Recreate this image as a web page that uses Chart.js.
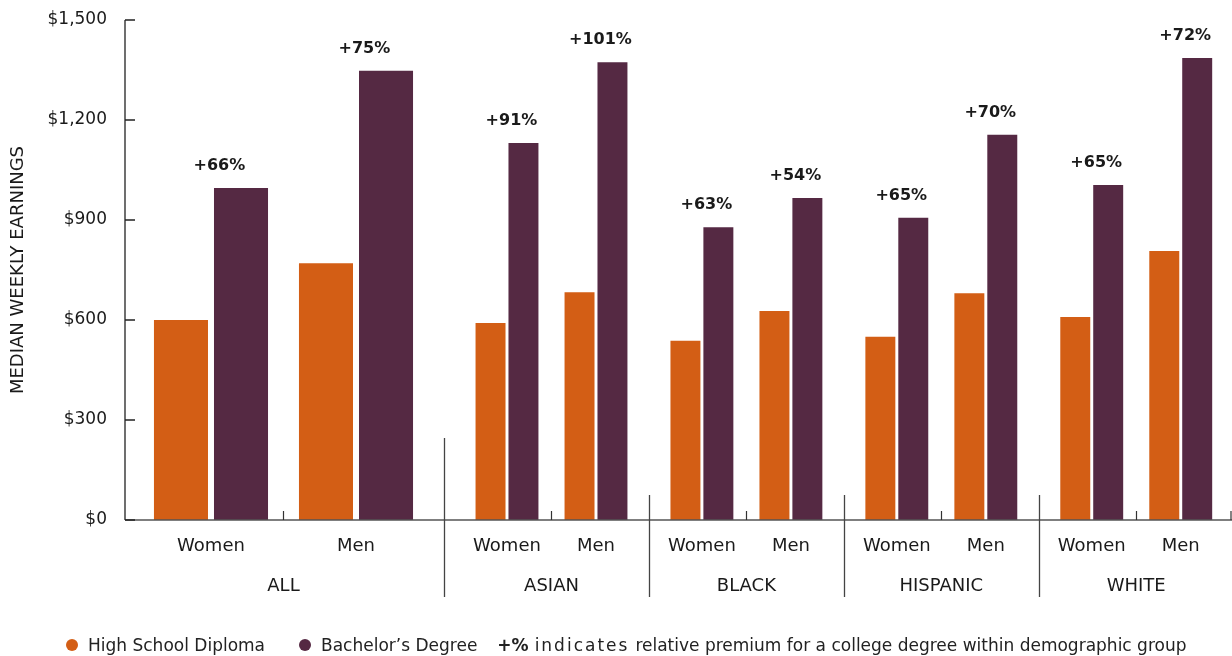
<!DOCTYPE html>
<html>
<head>
<meta charset="utf-8">
<script src="https://cdn.jsdelivr.net/npm/chart.js@4.4.1/dist/chart.umd.min.js"></script>
<style>
  body { margin: 0; background: #fff; }
  #wrap { position: relative; width: 1232px; height: 656px; }
  #legend {
    position: absolute; left: 66px; top: 635px;
    font-family: "DejaVu Sans", sans-serif; font-size: 17px; color: #222;
    display: flex; align-items: center; white-space: nowrap;
  }
  #legend .dot { width: 12px; height: 12px; border-radius: 50%; display: inline-block; margin-right: 10px; }
  #legend .item { display: flex; align-items: center; }
  #legend .note b { margin-right: 6px; }
  #legend .spaced { letter-spacing: 2px; margin-right: 6px; }
</style>
</head>
<body>
<div id="wrap">
  <canvas id="earnings" width="1232" height="656"></canvas>
  <div id="legend">
    <span class="item" style="margin-right:34px"><span class="dot" style="background:#D35E15"></span>High School Diploma</span>
    <span class="item" style="margin-right:20px"><span class="dot" style="background:#552943"></span>Bachelor’s Degree</span>
    <span class="note"><b>+%</b><span class="spaced">indicates</span>relative premium for a college degree within demographic group</span>
  </div>
</div>
<script>
const groups = ["ALL", "ASIAN", "BLACK", "HISPANIC", "WHITE"];
const sexes = ["Women", "Men"];
// median weekly earnings, group by group, women then men
const highSchool = [600, 770, 591, 683, 538, 627, 550, 680, 609, 807];
const bachelors = [996, 1348, 1131, 1373, 878, 966, 907, 1156, 1005, 1386];
const yTicks = [0, 300, 600, 900, 1200, 1500];

const HS_COLOR = "#D35E15";
const BA_COLOR = "#552943";
const FONT = "DejaVu Sans";

// "ALL" gets its own wider x scale, the other groups share a narrower one
const groupStep = 2.19;     // spacing between race groups, in category widths
const halfPairAll = 0.207;  // half the distance between the two bars of a pair
const halfPairRest = 0.185;

function pointsFor(values, first, side) {
  const out = [];
  const half = first ? halfPairAll : halfPairRest;
  values.forEach((v, i) => {
    const g = Math.floor(i / 2), s = i % 2;
    if (first ? g === 0 : g > 0) {
      const base = first ? s : (g - 1) * groupStep + s;
      out.push({ x: base + side * half, y: v });
    }
  });
  return out;
}

const premium = bachelors.map((b, i) => Math.round((b / highSchool[i] - 1) * 100));

const overlay = {
  id: "overlay",
  afterDraw(chart) {
    const ctx = chart.ctx;
    const area = chart.chartArea;
    const yScale = chart.scales.y;
    const bars = (d) => chart.getDatasetMeta(d).data;
    // flatten bars back into the order of the data arrays
    const hsBars = bars(0).concat(bars(2));
    const baBars = bars(1).concat(bars(3));
    const left = (el) => el.x - el.width / 2;
    const right = (el) => el.x + el.width / 2;

    ctx.save();
    // axis lines
    ctx.strokeStyle = "#555";
    ctx.lineWidth = 1.5;
    ctx.beginPath();
    ctx.moveTo(area.left, area.bottom);
    ctx.lineTo(area.right, area.bottom);
    ctx.stroke();

    ctx.strokeStyle = "#222";
    ctx.lineWidth = 1.3;
    ctx.beginPath();
    ctx.moveTo(area.left, area.top);
    ctx.lineTo(area.left, area.bottom);
    yTicks.forEach((t) => {
      const y = yScale.getPixelForValue(t);
      ctx.moveTo(area.left, y);
      ctx.lineTo(area.left + 10, y);
    });
    ctx.stroke();

    // small ticks between women and men, and at the end of the axis
    ctx.strokeStyle = "#333";
    ctx.lineWidth = 1.2;
    ctx.beginPath();
    groups.forEach((g, gi) => {
      const x = Math.round((right(baBars[gi * 2]) + left(hsBars[gi * 2 + 1])) / 2) + 0.5;
      ctx.moveTo(x, area.bottom - 9);
      ctx.lineTo(x, area.bottom);
    });
    ctx.moveTo(area.right - 1, area.bottom - 9);
    ctx.lineTo(area.right - 1, area.bottom);
    ctx.stroke();

    // group separators
    ctx.strokeStyle = "#444";
    ctx.lineWidth = 1.3;
    ctx.beginPath();
    for (let gi = 0; gi < groups.length - 1; gi++) {
      const x = Math.round((right(baBars[gi * 2 + 1]) + left(hsBars[gi * 2 + 2])) / 2) + 0.5;
      ctx.moveTo(x, area.bottom - (gi === 0 ? 82 : 25));
      ctx.lineTo(x, area.bottom + 77);
    }
    ctx.stroke();

    // category and group labels
    ctx.fillStyle = "#1a1a1a";
    ctx.textAlign = "center";
    ctx.textBaseline = "alphabetic";
    ctx.font = "18px '" + FONT + "'";
    hsBars.forEach((el, i) => {
      const cx = (left(el) + right(baBars[i])) / 2;
      ctx.fillText(sexes[i % 2], cx, area.bottom + 31);
    });
    groups.forEach((g, gi) => {
      const a = (left(hsBars[gi * 2]) + right(baBars[gi * 2])) / 2;
      const b = (left(hsBars[gi * 2 + 1]) + right(baBars[gi * 2 + 1])) / 2;
      ctx.fillText(g, (a + b) / 2, area.bottom + 71);
    });

    // premium labels above the bachelor's bars
    ctx.font = "bold 16px '" + FONT + "'";
    baBars.forEach((el, i) => {
      ctx.fillText("+" + premium[i] + "%", el.x - el.width * 0.4, el.y - 18);
    });
    ctx.restore();
  }
};

const barCommon = { borderWidth: 0, grouped: false, categoryPercentage: 1 };

new Chart(document.getElementById("earnings"), {
  type: "bar",
  data: {
    datasets: [
      { ...barCommon, label: "High School Diploma", data: pointsFor(highSchool, true, -1), backgroundColor: HS_COLOR,
        xAxisID: "xAll", barPercentage: 0.9 },
      { ...barCommon, label: "Bachelor's Degree", data: pointsFor(bachelors, true, 1), backgroundColor: BA_COLOR,
        xAxisID: "xAll", barPercentage: 0.9 },
      { ...barCommon, label: "High School Diploma", data: pointsFor(highSchool, false, -1), backgroundColor: HS_COLOR,
        xAxisID: "xRest", barPercentage: 0.91 },
      { ...barCommon, label: "Bachelor's Degree", data: pointsFor(bachelors, false, 1), backgroundColor: BA_COLOR,
        xAxisID: "xRest", barPercentage: 0.91 }
    ]
  },
  options: {
    responsive: false,
    animation: false,
    devicePixelRatio: 1,
    layout: { padding: { top: 20, right: 0, bottom: 136, left: 0 } },
    plugins: { legend: { display: false }, tooltip: { enabled: false } },
    scales: {
      xAll: { type: "linear", display: false, offset: false, min: -0.593, max: 7.041,
        afterBuildTicks: (scale) => { scale.ticks = [{ value: 0 }, { value: 1 }]; } },
      xRest: { type: "linear", display: false, offset: false, min: -4.292, max: 8.146,
        afterBuildTicks: (scale) => { scale.ticks = [{ value: 0 }, { value: 1 }]; } },
      y: {
        position: "left",
        min: 0,
        max: 1500,
        afterBuildTicks: (scale) => { scale.ticks = yTicks.map((v) => ({ value: v })); },
        afterFit: (scale) => {
          scale.width = 125;
          scale.paddingTop = 0;
          scale.paddingBottom = 0;
        },
        ticks: {
          padding: 10,
          color: "#1a1a1a",
          font: { family: FONT, size: 17 },
          callback: (v) => "$" + v.toLocaleString("en-US")
        },
        grid: { display: false },
        border: { display: false },
        title: {
          display: true,
          text: "MEDIAN WEEKLY EARNINGS",
          color: "#1a1a1a",
          font: { family: FONT, size: 18 },
          padding: { top: 8, bottom: 0 }
        }
      }
    }
  },
  plugins: [overlay]
});
</script>
</body>
</html>
